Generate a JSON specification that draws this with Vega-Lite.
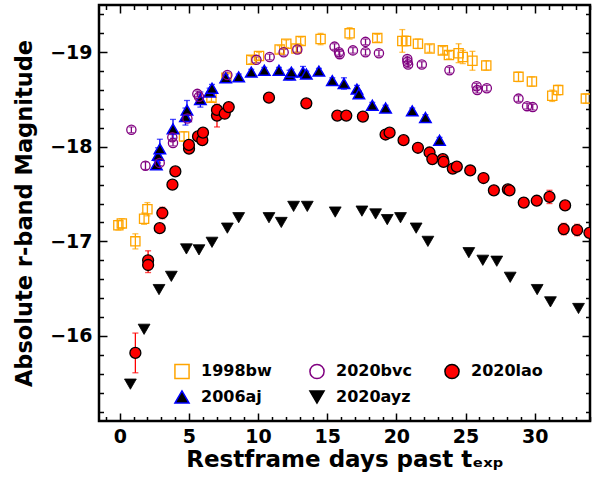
{
  "$schema": "https://vega.github.io/schema/vega-lite/v6.json",
  "width": 491,
  "height": 416,
  "autosize": "none",
  "padding": {"left": 99, "top": 5, "right": 11, "bottom": 59},
  "background": "white",
  "config": {
    "view": {"stroke": "black", "strokeWidth": 2.5},
    "font": "DejaVu Sans",
    "axis": {"domain": false, "grid": false, "tickColor": "black", "tickWidth": 1.5, "labelOverlap": false, "labelFlush": false}
  },
  "data": {"values": [
    {"s":"1998bw","d":-0.1,"m":-17.17,"e":0.05},
    {"s":"1998bw","d":0.15,"m":-17.19,"e":0.05},
    {"s":"1998bw","d":1.13,"m":-17.0,"e":0.08},
    {"s":"1998bw","d":1.76,"m":-17.24,"e":0.06},
    {"s":"1998bw","d":2.0,"m":-17.34,"e":0.07},
    {"s":"1998bw","d":4.65,"m":-18.11,"e":0.05},
    {"s":"1998bw","d":6.63,"m":-18.52,"e":0.04},
    {"s":"1998bw","d":7.71,"m":-18.73,"e":0.04},
    {"s":"1998bw","d":9.51,"m":-18.92,"e":0.04},
    {"s":"1998bw","d":10.07,"m":-18.96,"e":0.04},
    {"s":"1998bw","d":11.56,"m":-19.03,"e":0.04},
    {"s":"1998bw","d":12.04,"m":-19.09,"e":0.04},
    {"s":"1998bw","d":12.77,"m":-19.04,"e":0.04},
    {"s":"1998bw","d":13.08,"m":-19.12,"e":0.04},
    {"s":"1998bw","d":14.52,"m":-19.14,"e":0.06},
    {"s":"1998bw","d":16.62,"m":-19.2,"e":0.06},
    {"s":"1998bw","d":18.62,"m":-19.15,"e":0.04},
    {"s":"1998bw","d":20.43,"m":-19.12,"e":0.12},
    {"s":"1998bw","d":20.7,"m":-19.12,"e":0.05},
    {"s":"1998bw","d":21.56,"m":-19.09,"e":0.05},
    {"s":"1998bw","d":22.4,"m":-19.04,"e":0.04},
    {"s":"1998bw","d":23.36,"m":-19.02,"e":0.04},
    {"s":"1998bw","d":23.8,"m":-18.97,"e":0.04},
    {"s":"1998bw","d":24.5,"m":-18.99,"e":0.1},
    {"s":"1998bw","d":24.8,"m":-18.95,"e":0.07},
    {"s":"1998bw","d":25.5,"m":-18.91,"e":0.1},
    {"s":"1998bw","d":26.5,"m":-18.86,"e":0.05},
    {"s":"1998bw","d":28.83,"m":-18.74,"e":0.05},
    {"s":"1998bw","d":29.8,"m":-18.69,"e":0.05},
    {"s":"1998bw","d":31.27,"m":-18.54,"e":0.06},
    {"s":"1998bw","d":31.7,"m":-18.6,"e":0.05},
    {"s":"1998bw","d":33.7,"m":-18.51,"e":0.05},

    {"s":"2006aj","d":2.65,"m":-17.81,"e":0.04},
    {"s":"2006aj","d":2.77,"m":-17.91,"e":0.08},
    {"s":"2006aj","d":2.9,"m":-17.98,"e":0.1},
    {"s":"2006aj","d":3.85,"m":-18.19,"e":0.1},
    {"s":"2006aj","d":4.75,"m":-18.32,"e":0.09},
    {"s":"2006aj","d":4.86,"m":-18.39,"e":0.1},
    {"s":"2006aj","d":5.83,"m":-18.5,"e":0.08},
    {"s":"2006aj","d":6.5,"m":-18.58,"e":0.04},
    {"s":"2006aj","d":6.67,"m":-18.62,"e":0.04},
    {"s":"2006aj","d":7.66,"m":-18.73,"e":0.03},
    {"s":"2006aj","d":8.6,"m":-18.74,"e":0.03},
    {"s":"2006aj","d":9.51,"m":-18.79,"e":0.03},
    {"s":"2006aj","d":10.45,"m":-18.81,"e":0.03},
    {"s":"2006aj","d":11.51,"m":-18.81,"e":0.03},
    {"s":"2006aj","d":12.28,"m":-18.76,"e":0.05},
    {"s":"2006aj","d":12.41,"m":-18.79,"e":0.03},
    {"s":"2006aj","d":13.25,"m":-18.79,"e":0.06},
    {"s":"2006aj","d":13.49,"m":-18.77,"e":0.03},
    {"s":"2006aj","d":14.4,"m":-18.8,"e":0.03},
    {"s":"2006aj","d":15.37,"m":-18.7,"e":0.03},
    {"s":"2006aj","d":16.21,"m":-18.67,"e":0.06},
    {"s":"2006aj","d":17.15,"m":-18.61,"e":0.04},
    {"s":"2006aj","d":17.29,"m":-18.56,"e":0.03},
    {"s":"2006aj","d":18.26,"m":-18.44,"e":0.03},
    {"s":"2006aj","d":19.22,"m":-18.41,"e":0.03},
    {"s":"2006aj","d":21.15,"m":-18.38,"e":0.03},
    {"s":"2006aj","d":22.1,"m":-18.31,"e":0.03},
    {"s":"2006aj","d":23.12,"m":-18.07,"e":0.03},

    {"s":"2020bvc","d":0.84,"m":-18.18,"e":0.03},
    {"s":"2020bvc","d":1.86,"m":-17.8,"e":0.04},
    {"s":"2020bvc","d":2.89,"m":-17.83,"e":0.03},
    {"s":"2020bvc","d":3.8,"m":-18.1,"e":0.03},
    {"s":"2020bvc","d":3.85,"m":-18.04,"e":0.03},
    {"s":"2020bvc","d":4.89,"m":-18.3,"e":0.03},
    {"s":"2020bvc","d":5.61,"m":-18.56,"e":0.03},
    {"s":"2020bvc","d":5.73,"m":-18.53,"e":0.03},
    {"s":"2020bvc","d":7.78,"m":-18.76,"e":0.03},
    {"s":"2020bvc","d":9.88,"m":-18.92,"e":0.03},
    {"s":"2020bvc","d":10.84,"m":-18.95,"e":0.03},
    {"s":"2020bvc","d":11.85,"m":-19.0,"e":0.03},
    {"s":"2020bvc","d":12.84,"m":-19.03,"e":0.03},
    {"s":"2020bvc","d":15.53,"m":-19.06,"e":0.03},
    {"s":"2020bvc","d":15.85,"m":-19.0,"e":0.03},
    {"s":"2020bvc","d":15.9,"m":-18.98,"e":0.03},
    {"s":"2020bvc","d":16.86,"m":-19.02,"e":0.03},
    {"s":"2020bvc","d":17.77,"m":-19.11,"e":0.03},
    {"s":"2020bvc","d":17.77,"m":-19.0,"e":0.03},
    {"s":"2020bvc","d":18.74,"m":-18.99,"e":0.03},
    {"s":"2020bvc","d":20.79,"m":-18.93,"e":0.03},
    {"s":"2020bvc","d":20.8,"m":-18.9,"e":0.03},
    {"s":"2020bvc","d":20.85,"m":-18.87,"e":0.03},
    {"s":"2020bvc","d":21.84,"m":-18.87,"e":0.03},
    {"s":"2020bvc","d":23.84,"m":-18.81,"e":0.03},
    {"s":"2020bvc","d":25.8,"m":-18.64,"e":0.03},
    {"s":"2020bvc","d":25.85,"m":-18.6,"e":0.03},
    {"s":"2020bvc","d":26.54,"m":-18.62,"e":0.03},
    {"s":"2020bvc","d":28.83,"m":-18.51,"e":0.03},
    {"s":"2020bvc","d":29.45,"m":-18.43,"e":0.03},
    {"s":"2020bvc","d":29.86,"m":-18.42,"e":0.03},

    {"s":"2020ayz","d":0.77,"m":-15.49},
    {"s":"2020ayz","d":1.76,"m":-16.07},
    {"s":"2020ayz","d":2.84,"m":-16.49},
    {"s":"2020ayz","d":3.73,"m":-16.63},
    {"s":"2020ayz","d":4.82,"m":-16.92},
    {"s":"2020ayz","d":5.73,"m":-16.91},
    {"s":"2020ayz","d":6.67,"m":-16.99},
    {"s":"2020ayz","d":7.78,"m":-17.14},
    {"s":"2020ayz","d":8.6,"m":-17.25},
    {"s":"2020ayz","d":10.79,"m":-17.25},
    {"s":"2020ayz","d":11.68,"m":-17.2},
    {"s":"2020ayz","d":12.57,"m":-17.37},
    {"s":"2020ayz","d":13.56,"m":-17.37},
    {"s":"2020ayz","d":15.58,"m":-17.31},
    {"s":"2020ayz","d":17.51,"m":-17.32},
    {"s":"2020ayz","d":18.5,"m":-17.29},
    {"s":"2020ayz","d":19.34,"m":-17.23},
    {"s":"2020ayz","d":20.3,"m":-17.25},
    {"s":"2020ayz","d":21.43,"m":-17.14},
    {"s":"2020ayz","d":22.28,"m":-17.0},
    {"s":"2020ayz","d":25.24,"m":-16.88},
    {"s":"2020ayz","d":26.25,"m":-16.8},
    {"s":"2020ayz","d":27.26,"m":-16.79},
    {"s":"2020ayz","d":28.23,"m":-16.62},
    {"s":"2020ayz","d":30.18,"m":-16.49},
    {"s":"2020ayz","d":31.14,"m":-16.36},
    {"s":"2020ayz","d":33.17,"m":-16.29},

    {"s":"2020lao","d":1.13,"m":-15.82,"e":0.21},
    {"s":"2020lao","d":2.05,"m":-16.8,"e":0.1},
    {"s":"2020lao","d":2.05,"m":-16.75,"e":0.08},
    {"s":"2020lao","d":2.89,"m":-17.14,"e":0.03},
    {"s":"2020lao","d":3.08,"m":-17.3,"e":0.06},
    {"s":"2020lao","d":3.81,"m":-17.6,"e":0.03},
    {"s":"2020lao","d":4.02,"m":-17.74,"e":0.04},
    {"s":"2020lao","d":5.01,"m":-17.98,"e":0.04},
    {"s":"2020lao","d":5.0,"m":-18.02,"e":0.03},
    {"s":"2020lao","d":5.66,"m":-18.11,"e":0.03},
    {"s":"2020lao","d":5.97,"m":-18.07,"e":0.03},
    {"s":"2020lao","d":6.02,"m":-18.15,"e":0.03},
    {"s":"2020lao","d":7.03,"m":-18.33,"e":0.12},
    {"s":"2020lao","d":7.03,"m":-18.39,"e":0.05},
    {"s":"2020lao","d":7.59,"m":-18.35,"e":0.03},
    {"s":"2020lao","d":7.88,"m":-18.42,"e":0.03},
    {"s":"2020lao","d":10.79,"m":-18.52,"e":0.02},
    {"s":"2020lao","d":13.49,"m":-18.46,"e":0.02},
    {"s":"2020lao","d":15.73,"m":-18.33,"e":0.02},
    {"s":"2020lao","d":16.38,"m":-18.33,"e":0.02},
    {"s":"2020lao","d":17.58,"m":-18.32,"e":0.03},
    {"s":"2020lao","d":19.22,"m":-18.13,"e":0.02},
    {"s":"2020lao","d":19.51,"m":-18.15,"e":0.02},
    {"s":"2020lao","d":20.52,"m":-18.07,"e":0.03},
    {"s":"2020lao","d":21.56,"m":-17.99,"e":0.04},
    {"s":"2020lao","d":22.4,"m":-17.94,"e":0.04},
    {"s":"2020lao","d":22.6,"m":-17.87,"e":0.04},
    {"s":"2020lao","d":23.36,"m":-17.87,"e":0.03},
    {"s":"2020lao","d":23.41,"m":-17.84,"e":0.03},
    {"s":"2020lao","d":24.08,"m":-17.77,"e":0.03},
    {"s":"2020lao","d":24.37,"m":-17.79,"e":0.03},
    {"s":"2020lao","d":25.34,"m":-17.75,"e":0.03},
    {"s":"2020lao","d":26.3,"m":-17.67,"e":0.04},
    {"s":"2020lao","d":27.05,"m":-17.54,"e":0.02},
    {"s":"2020lao","d":28.06,"m":-17.55,"e":0.03},
    {"s":"2020lao","d":28.18,"m":-17.54,"e":0.04},
    {"s":"2020lao","d":29.21,"m":-17.41,"e":0.05},
    {"s":"2020lao","d":30.15,"m":-17.43,"e":0.05},
    {"s":"2020lao","d":31.07,"m":-17.47,"e":0.07},
    {"s":"2020lao","d":32.2,"m":-17.38,"e":0.03},
    {"s":"2020lao","d":32.1,"m":-17.13,"e":0.06},
    {"s":"2020lao","d":33.07,"m":-17.12,"e":0.06},
    {"s":"2020lao","d":33.96,"m":-17.09,"e":0.05}
  ]},
  "layer": [
    {
      "transform": [{"filter": "datum.e > 0"}],
      "mark": {"type": "errorbar", "ticks": {"size": 6, "strokeWidth": 1.3}, "thickness": 1.3, "clip": true},
      "encoding": {
        "x": {"field": "d", "type": "quantitative", "scale": {"domain": [-1.5, 34], "nice": false, "zero": false}, "axis": null},
        "y": {"field": "m", "type": "quantitative", "scale": {"domain": [-19.5, -15.1], "reverse": true, "nice": false, "zero": false}, "axis": null},
        "yError": {"field": "e"},
        "color": {"field": "s", "type": "nominal", "legend": null,
          "scale": {"domain": ["2006aj","2020lao","1998bw","2020bvc"], "range": ["#0000FF","#FF0000","#FFA500","#800080"]}}
      }
    },
    {
      "transform": [{"filter": "datum.s === '1998bw'"}],
      "mark": {"type": "point", "size": 85, "strokeWidth": 1.3, "opacity": 1, "clip": true},
      "encoding": {
        "x": {"field": "d", "type": "quantitative", "scale": {"domain": [-1.5, 34], "nice": false, "zero": false},
          "axis": {"orient": "bottom", "values": [0,5,10,15,20,25,30], "format": "d", "tickSize": -8,
            "labelFont": "DejaVu Sans", "labelFontWeight": "bold", "labelFontSize": 19, "labelColor": "black", "labelPadding": 14,
            "title": "Restframe days past tₑₓₚ", "titleFont": "DejaVu Sans", "titleFontWeight": "bold", "titleFontSize": 23, "titleColor": "black", "titlePadding": 2}},
        "y": {"field": "m", "type": "quantitative", "scale": {"domain": [-19.5, -15.1], "reverse": true, "nice": false, "zero": false},
          "axis": {"orient": "left", "values": [-16,-17,-18,-19], "format": "d", "tickSize": -8,
            "labelFont": "DejaVu Sans", "labelFontWeight": "bold", "labelFontSize": 19, "labelColor": "black", "labelPadding": 15,
            "title": "Absolute r-band Magnitude", "titleFont": "DejaVu Sans", "titleFontWeight": "bold", "titleFontSize": 22.5, "titleColor": "black", "titlePadding": 13}},
        "shape": {"field": "s", "type": "nominal",
          "scale": {"domain": ["1998bw","2006aj","2020bvc","2020ayz","2020lao"], "range": ["square","triangle-up","circle","triangle-down","circle"]},
          "legend": {"title": null, "orient": "none", "legendX": 75, "legendY": 358, "columns": 3, "gridAlign": "all",
            "columnPadding": 29, "rowPadding": 5, "padding": 0, "labelOffset": 11,
            "labelFont": "DejaVu Sans", "labelFontWeight": "bold", "labelFontSize": 16, "labelColor": "black",
            "symbolSize": 200, "symbolStrokeWidth": 1.5}},
        "fill": {"field": "s", "type": "nominal",
          "scale": {"domain": ["1998bw","2006aj","2020bvc","2020ayz","2020lao"], "range": ["transparent","#000000","transparent","#000000","#FF0000"]},
          "legend": {"title": null, "orient": "none", "legendX": 75, "legendY": 358, "columns": 3, "gridAlign": "all",
            "columnPadding": 29, "rowPadding": 5, "padding": 0, "labelOffset": 11,
            "labelFont": "DejaVu Sans", "labelFontWeight": "bold", "labelFontSize": 16, "labelColor": "black",
            "symbolSize": 200, "symbolStrokeWidth": 1.5}},
        "stroke": {"field": "s", "type": "nominal",
          "scale": {"domain": ["1998bw","2006aj","2020bvc","2020ayz","2020lao"], "range": ["#FFA500","#0000FF","#800080","#000000","#000000"]},
          "legend": {"title": null, "orient": "none", "legendX": 75, "legendY": 358, "columns": 3, "gridAlign": "all",
            "columnPadding": 29, "rowPadding": 5, "padding": 0, "labelOffset": 11,
            "labelFont": "DejaVu Sans", "labelFontWeight": "bold", "labelFontSize": 16, "labelColor": "black",
            "symbolSize": 200, "symbolStrokeWidth": 1.5}}
      }
    },
    {
      "transform": [{"filter": "datum.s === '2006aj'"}],
      "mark": {"type": "point", "size": 130, "strokeWidth": 1.5, "opacity": 1, "clip": true},
      "encoding": {
        "x": {"field": "d", "type": "quantitative",
          "axis": {"orient": "bottom", "values": [-1,1,2,3,4,6,7,8,9,11,12,13,14,16,17,18,19,21,22,23,24,26,27,28,29,31,32,33,34],
            "labels": false, "title": null, "tickSize": -4.5}},
        "y": {"field": "m", "type": "quantitative",
          "axis": {"orient": "left", "values": [-15.2,-15.4,-15.6,-15.8,-16.2,-16.4,-16.6,-16.8,-17.2,-17.4,-17.6,-17.8,-18.2,-18.4,-18.6,-18.8,-19.2,-19.4],
            "labels": false, "title": null, "tickSize": -4.5}},
        "shape": {"field": "s", "type": "nominal"},
        "fill": {"field": "s", "type": "nominal"},
        "stroke": {"field": "s", "type": "nominal"}
      }
    },
    {
      "transform": [{"filter": "datum.s === '2020bvc'"}],
      "mark": {"type": "point", "size": 85, "strokeWidth": 1.3, "opacity": 1, "clip": true},
      "encoding": {
        "x": {"field": "d", "type": "quantitative",
          "axis": {"orient": "top", "values": [0,5,10,15,20,25,30], "labels": false, "title": null, "tickSize": -8}},
        "y": {"field": "m", "type": "quantitative",
          "axis": {"orient": "right", "values": [-16,-17,-18,-19], "labels": false, "title": null, "tickSize": -8}},
        "shape": {"field": "s", "type": "nominal"},
        "fill": {"field": "s", "type": "nominal"},
        "stroke": {"field": "s", "type": "nominal"}
      }
    },
    {
      "transform": [{"filter": "datum.s === '2020ayz'"}],
      "mark": {"type": "point", "size": 140, "strokeWidth": 0.8, "opacity": 1, "clip": true},
      "encoding": {
        "x": {"field": "d", "type": "quantitative",
          "axis": {"orient": "top", "values": [-1,1,2,3,4,6,7,8,9,11,12,13,14,16,17,18,19,21,22,23,24,26,27,28,29,31,32,33,34],
            "labels": false, "title": null, "tickSize": -4.5}},
        "y": {"field": "m", "type": "quantitative",
          "axis": {"orient": "right", "values": [-15.2,-15.4,-15.6,-15.8,-16.2,-16.4,-16.6,-16.8,-17.2,-17.4,-17.6,-17.8,-18.2,-18.4,-18.6,-18.8,-19.2,-19.4],
            "labels": false, "title": null, "tickSize": -4.5}},
        "shape": {"field": "s", "type": "nominal"},
        "fill": {"field": "s", "type": "nominal"},
        "stroke": {"field": "s", "type": "nominal"}
      }
    },
    {
      "transform": [{"filter": "datum.s === '2020lao'"}],
      "mark": {"type": "point", "size": 120, "strokeWidth": 1.3, "opacity": 1, "clip": true},
      "encoding": {
        "x": {"field": "d", "type": "quantitative", "axis": null},
        "y": {"field": "m", "type": "quantitative", "axis": null},
        "shape": {"field": "s", "type": "nominal"},
        "fill": {"field": "s", "type": "nominal"},
        "stroke": {"field": "s", "type": "nominal"}
      }
    }
  ],
  "resolve": {"axis": {"x": "independent", "y": "independent"}}
}
